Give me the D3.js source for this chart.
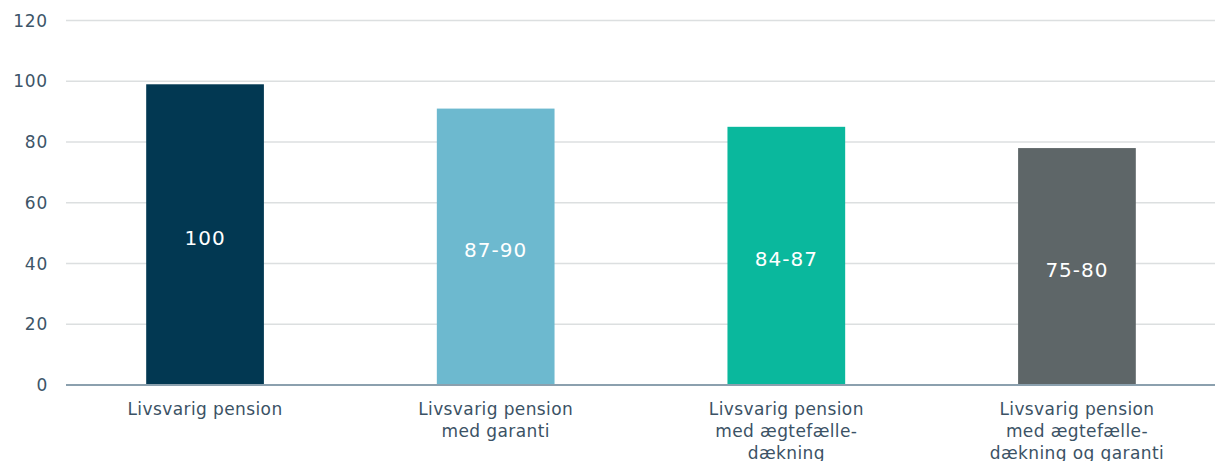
<!DOCTYPE html>
<html>
<head>
<meta charset="utf-8">
<script src="https://cdn.jsdelivr.net/npm/d3@7"></script>
<style>
  body { margin: 0; background: #fff; }
  svg { display: block; }
</style>
</head>
<body>
<svg width="1220" height="461"></svg>
<script>
var categories = [
    ["Livsvarig pension"],
    ["Livsvarig pension", "med garanti"],
    ["Livsvarig pension", "med ægtefælle-", "dækning"],
    ["Livsvarig pension", "med ægtefælle-", "dækning og garanti"]
];
var values = [99, 91, 85, 78];
var valueLabels = ["100", "87-90", "84-87", "75-80"];
var colors = ["#023852", "#6db9cf", "#0ab89d", "#5e6668"];
var yTicks = [0, 20, 40, 60, 80, 100, 120];

var svg = d3.select("svg"),
    width = 1220,
    height = 461;

var gridLeft = 66, gridRight = 1215;

var x = d3.scaleBand()
    .domain(d3.range(categories.length))
    .range([59, 1223])
    .paddingInner(0.595)
    .paddingOuter(0.3);

var y = d3.scaleLinear()
    .domain([0, 120])
    .range([385, 20.5]);

// gridlines
svg.append("g")
    .selectAll("line")
    .data(yTicks.filter(function(d) { return d > 0; }))
    .enter().append("line")
    .attr("x1", gridLeft)
    .attr("x2", gridRight)
    .attr("y1", function(d) { return y(d); })
    .attr("y2", function(d) { return y(d); })
    .attr("stroke", "#dcdfe0")
    .attr("stroke-width", 1.5);

// y labels
svg.append("g")
    .selectAll("text")
    .data(yTicks)
    .enter().append("text")
    .attr("x", 48)
    .attr("y", function(d) { return y(d); })
    .attr("dy", "0.36em")
    .attr("text-anchor", "end")
    .attr("fill", "#3d5568")
    .style("font-family", "DejaVu Sans")
    .style("font-size", "17px")
    .style("letter-spacing", "0.8px")
    .text(function(d) { return d; });

// bars
svg.append("g")
    .selectAll("rect")
    .data(values)
    .enter().append("rect")
    .attr("x", function(d, i) { return x(i); })
    .attr("width", x.bandwidth())
    .attr("y", function(d) { return y(d); })
    .attr("height", function(d) { return y(0) - y(d); })
    .attr("fill", function(d, i) { return colors[i]; });

// baseline
svg.append("line")
    .attr("x1", gridLeft)
    .attr("x2", gridRight)
    .attr("y1", y(0))
    .attr("y2", y(0))
    .attr("stroke", "#8ba0ae")
    .attr("stroke-width", 2);

// value labels inside bars
svg.append("g")
    .selectAll("text")
    .data(values)
    .enter().append("text")
    .attr("x", function(d, i) { return x(i) + x.bandwidth() / 2; })
    .attr("y", function(d) { return (y(d) + y(0)) / 2 + 3; })
    .attr("dy", "0.36em")
    .attr("text-anchor", "middle")
    .attr("fill", "#ffffff")
    .style("font-family", "DejaVu Sans")
    .style("font-size", "20px")
    .style("letter-spacing", "1px")
    .text(function(d, i) { return valueLabels[i]; });

// category labels
var cat = svg.append("g")
    .selectAll("text")
    .data(categories)
    .enter().append("text")
    .attr("x", function(d, i) { return x(i) + x.bandwidth() / 2; })
    .attr("y", 415)
    .attr("text-anchor", "middle")
    .attr("fill", "#3b5265")
    .style("font-family", "DejaVu Sans")
    .style("font-size", "17px")
    .style("letter-spacing", "0.4px");

cat.selectAll("tspan")
    .data(function(d) { return d; })
    .enter().append("tspan")
    .attr("x", function() { return d3.select(this.parentNode).attr("x"); })
    .attr("dy", function(d, j) { return j === 0 ? 0 : 22; })
    .text(function(d) { return d; });
</script>
</body>
</html>
